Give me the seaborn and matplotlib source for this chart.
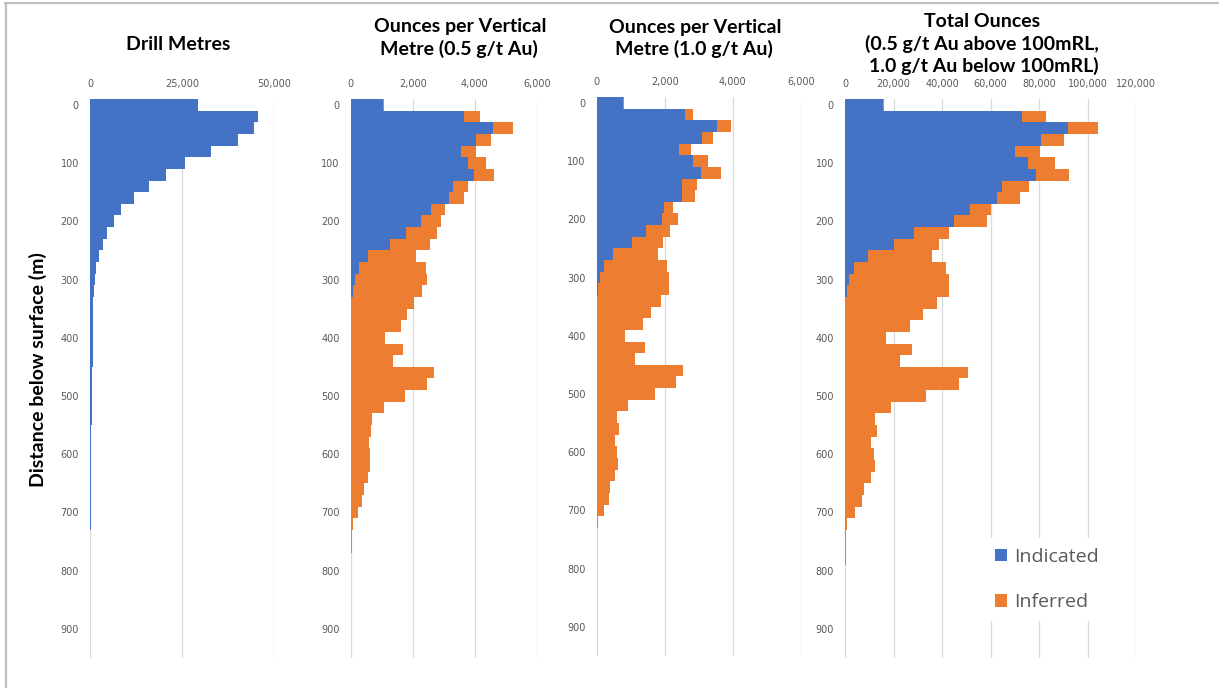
import matplotlib
matplotlib.use("Agg")
import matplotlib.pyplot as plt
from matplotlib.lines import Line2D
from matplotlib.patches import Patch
from matplotlib.ticker import FuncFormatter, MultipleLocator
import numpy as np
import seaborn as sns

# 20 m depth intervals below surface (interval start, m)
depth = list(range(0, 800, 20))

drill_metres = [29300, 45700, 44700, 40100, 32900, 25900, 20700, 16000, 11900, 8500,
                6400, 4700, 3400, 2500, 1700, 1400, 1200, 900, 900, 900,
                900, 900, 900, 650, 650, 650, 650, 650, 350, 350,
                350, 350, 350, 350, 350, 350, 350, 0, 0, 0]

# ounces per vertical metre, 0.5 g/t Au cut-off
oz05_indicated = [1050, 3640, 4590, 4050, 3560, 3800, 3970, 3290, 3160, 2600,
                  2260, 1790, 1270, 570, 260, 140, 60, 0, 0, 0,
                  0, 0, 0, 0, 0, 0, 0, 0, 0, 0,
                  0, 0, 0, 0, 0, 0, 0, 0, 0, 0]
oz05_inferred = [20, 520, 650, 490, 470, 560, 660, 510, 480, 430,
                 660, 1010, 1300, 1530, 2160, 2330, 2250, 2040, 1820, 1630,
                 1110, 1690, 1380, 2680, 2470, 1760, 1060, 680, 650, 590,
                 610, 610, 550, 430, 370, 250, 65, 45, 30, 20]

# ounces per vertical metre, 1.0 g/t Au cut-off
oz10_indicated = [780, 2600, 3550, 3110, 2430, 2820, 3070, 2520, 2520, 1990,
                  1920, 1450, 1030, 490, 220, 100, 30, 0, 0, 0,
                  0, 0, 0, 0, 0, 0, 0, 0, 0, 0,
                  0, 0, 0, 0, 0, 0, 0, 0, 0, 0]
oz10_inferred = [10, 220, 390, 320, 350, 440, 590, 430, 380, 240,
                 460, 700, 920, 1320, 1860, 2030, 2110, 1890, 1610, 1350,
                 840, 1410, 1140, 2530, 2330, 1700, 930, 600, 660, 540,
                 590, 620, 540, 400, 360, 200, 30, 20, 20, 10]

# total ounces (0.5 g/t above 100mRL, 1.0 g/t below)
total_indicated = [15800, 72800, 92100, 80700, 70300, 75500, 78900, 64900, 62600, 51500,
                   44800, 28500, 20000, 9600, 3700, 1600, 700, 0, 0, 0,
                   0, 0, 0, 0, 0, 0, 0, 0, 0, 0,
                   0, 0, 0, 0, 0, 0, 0, 0, 0, 0]
total_inferred = [300, 10100, 12400, 9600, 10100, 11200, 13300, 10900, 9600, 8600,
                  13700, 14200, 18900, 26400, 37900, 41100, 42000, 37800, 32300, 26700,
                  17000, 27800, 22700, 50700, 46900, 33400, 18900, 12200, 13000, 10700,
                  11800, 12300, 10700, 7800, 7100, 4000, 700, 400, 300, 300]

BLUE = "#4472C4"
ORANGE = "#ED7D31"
GREY_TXT = "#595959"
GRID = "#D9D9D9"

sns.set_theme(style="white")
plt.rcParams["font.family"] = ["DejaVu Sans"]

W, H = 1228, 688
fig = plt.figure(figsize=(W / 100, H / 100), dpi=100)
fig.patch.set_facecolor("white")


def px_axes(left, right, top, bottom):
    return fig.add_axes([left / W, 1 - bottom / H, (right - left) / W, (bottom - top) / H])


def bars(ax, values, color):
    sns.barplot(x=values, y=depth, orient="y", native_scale=True, width=1.0,
                color=color, saturation=1, linewidth=0, errorbar=None, ax=ax)


def style(ax, xmax, step):
    ax.set_xlim(0, xmax)
    ax.set_ylim(950, -10)
    ax.xaxis.set_major_locator(MultipleLocator(step))
    ax.xaxis.set_major_formatter(FuncFormatter(lambda v, p: f"{int(round(v)):,}"))
    ax.set_yticks(range(0, 901, 100))
    ax.set_yticklabels([str(v) for v in range(0, 901, 100)])
    ax.xaxis.tick_top()
    ax.tick_params(axis="x", length=0, pad=7, labelsize=7, labelcolor=GREY_TXT,
                   top=False, bottom=False, labeltop=True, labelbottom=False)
    ax.tick_params(axis="y", length=0, pad=8, labelsize=7, labelcolor=GREY_TXT)
    ax.grid(axis="x", color=GRID, linewidth=0.9)
    ax.grid(axis="y", visible=False)
    ax.set_axisbelow(True)
    ax.set_xlabel("")
    ax.set_ylabel("")
    for s in ax.spines.values():
        s.set_visible(False)


# Drill metres
ax1 = px_axes(90, 274, 99, 658)
bars(ax1, drill_metres, BLUE)
style(ax1, 50000, 25000)

# Ounces per vertical metre, 0.5 g/t
ax2 = px_axes(350.7, 536.7, 99, 658)
bars(ax2, np.add(oz05_indicated, oz05_inferred), ORANGE)
bars(ax2, oz05_indicated, BLUE)
style(ax2, 6000, 2000)

# Ounces per vertical metre, 1.0 g/t
ax3 = px_axes(596.7, 800.7, 97, 656)
bars(ax3, np.add(oz10_indicated, oz10_inferred), ORANGE)
bars(ax3, oz10_indicated, BLUE)
style(ax3, 6000, 2000)

# Total ounces
ax4 = px_axes(845, 1136, 99, 658)
bars(ax4, np.add(total_indicated, total_inferred), ORANGE)
bars(ax4, total_indicated, BLUE)
style(ax4, 120000, 20000)

# Panel titles
title_kw = dict(ha="center", va="baseline", fontsize=14, fontweight="bold",
                family=["Lato", "DejaVu Sans"], color="black")
titles = [
    (178, 50, "Drill Metres"),
    (460, 32, "Ounces per Vertical"),
    (459, 54.5, "Metre (0.5 g/t Au)"),
    (695, 33, "Ounces per Vertical"),
    (694, 55, "Metre (1.0 g/t Au)"),
    (982, 27, "Total Ounces"),
    (982, 50, "(0.5 g/t Au above 100mRL,"),
    (984, 72, "1.0 g/t Au below 100mRL)"),
]
for x, y, t in titles:
    fig.text(x / W, 1 - y / H, t, **title_kw)

fig.text(38 / W, 1 - 370 / H, "Distance below surface (m)", rotation=90,
         ha="center", va="center", fontsize=14, fontweight="bold",
         family=["Lato", "DejaVu Sans"], color="black")

# Legend
handles = [Patch(facecolor=BLUE, edgecolor="none"), Patch(facecolor=ORANGE, edgecolor="none")]
fig.legend(handles, ["Indicated", "Inferred"], loc="upper left",
           bbox_to_anchor=(985 / W, 1 - 538 / H), frameon=True, facecolor="white",
           edgecolor="none", fancybox=False, framealpha=1,
           prop={"family": ["Open Sans", "DejaVu Sans"], "size": 14},
           labelcolor=GREY_TXT, handlelength=0.62, handleheight=0.62,
           handletextpad=0.4, labelspacing=1.42, borderpad=0.5, borderaxespad=0)

# Outer frame lines
fig.add_artist(Line2D([5 / W, 1218 / W], [1 - 3 / H, 1 - 3 / H], color="#BFBFBF", linewidth=1.6))
fig.add_artist(Line2D([6 / W, 6 / W], [1 - 3 / H, 0], color="#BFBFBF", linewidth=1.6))

fig.savefig("out.png", dpi=100, facecolor="white")
